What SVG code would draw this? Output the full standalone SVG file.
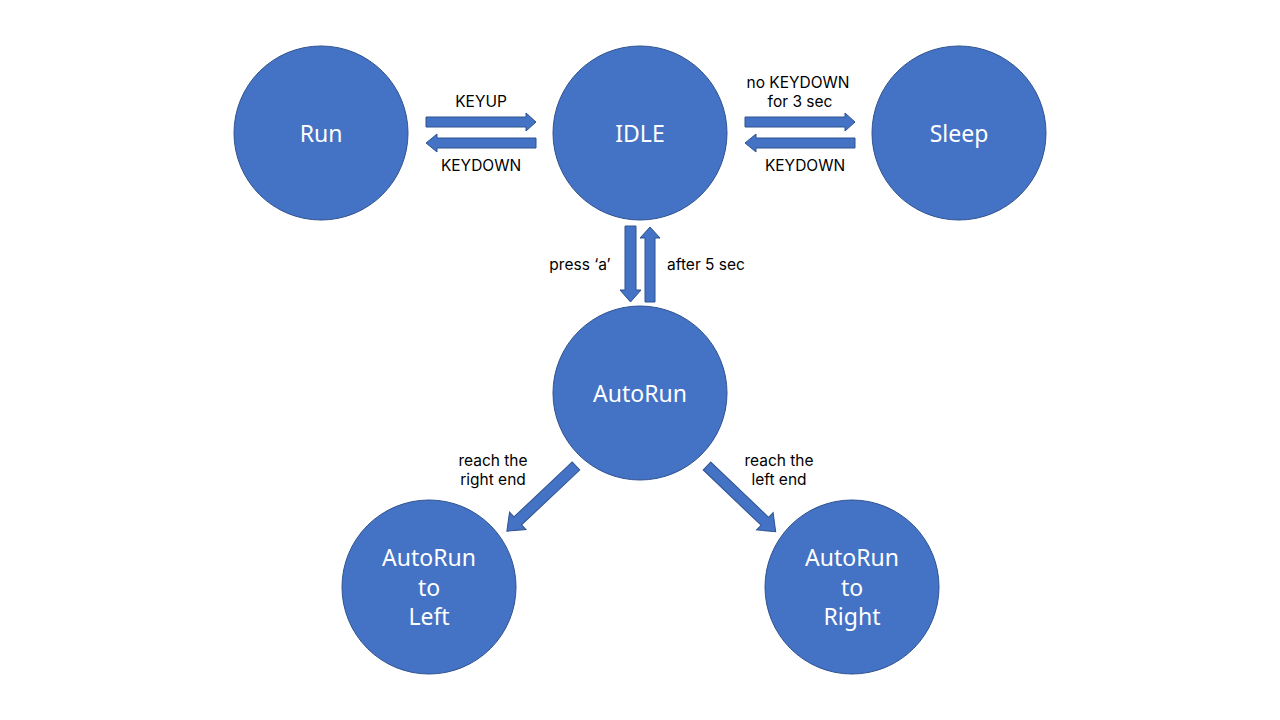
<svg xmlns="http://www.w3.org/2000/svg" width="1280" height="720" viewBox="0 0 1280 720">
<style>
.node{fill:#4472C4;stroke:#2F528F;stroke-width:1}
.nl{fill:#FFFFFF;font-family:"Noto Sans","Liberation Sans",sans-serif;font-size:23px;text-anchor:middle;dominant-baseline:central}
.el{fill:#000000;font-family:Inter,"Noto Sans","Liberation Sans",sans-serif;font-size:15.5px;text-anchor:middle;dominant-baseline:central}
.arr{fill:#4472C4;stroke:#2F528F;stroke-width:1}
</style>
<rect width="1280" height="720" fill="#FFFFFF"/>
<g id="connectors">
  <!-- Run -> IDLE (KEYUP) -->
  <polygon class="arr" points="426,117 526,117 526,113 536,122 526,131 526,127 426,127"/>
  <!-- IDLE -> Run (KEYDOWN) -->
  <polygon class="arr" points="536,138 437,138 437,134 426,143 437,152 437,148 536,148"/>
  <!-- IDLE -> Sleep -->
  <polygon class="arr" points="745,117 845,117 845,113 855,122 845,131 845,127 745,127"/>
  <!-- Sleep -> IDLE -->
  <polygon class="arr" points="855,138 756,138 756,134 745,143 756,152 756,148 855,148"/>
  <!-- IDLE -> AutoRun (press 'a') -->
  <polygon class="arr" points="625.5,226 636,226 636,290 641,290 630.5,302 620,290 625,290 625,226"/>
  <!-- AutoRun -> IDLE (after 5 sec) -->
  <polygon class="arr" points="645,302 655,302 655,238 660,238 650,227 640,238 645,238"/>
  <!-- AutoRun -> AutoRun to Left -->
  <polygon class="arr" transform="translate(576,466) rotate(136.7)" points="0,-5.5 80,-5.5 80,-12 95,0 80,12 80,5.5 0,5.5"/>
  <!-- AutoRun -> AutoRun to Right -->
  <polygon class="arr" transform="translate(707,466) rotate(43.7)" points="0,-5.5 80,-5.5 80,-12 95,0 80,12 80,5.5 0,5.5"/>
  <text class="el" x="481" y="101">KEYUP</text>
  <text class="el" x="481" y="165">KEYDOWN</text>
  <text class="el" x="798" y="82">no KEYDOWN<tspan x="800" dy="19">for 3 sec</tspan></text>
  <text class="el" x="805" y="165">KEYDOWN</text>
  <text class="el" x="580" y="264">press ‘a’</text>
  <text class="el" x="706" y="264">after 5 sec</text>
  <text class="el" x="493" y="460">reach the<tspan x="493" dy="19">right end</tspan></text>
  <text class="el" x="779" y="460">reach the<tspan x="779" dy="19">left end</tspan></text>
</g>
<g id="run">
  <circle class="node" cx="321" cy="133" r="87"/>
  <text class="nl" x="321" y="133">Run</text>
</g>
<g id="idle">
  <circle class="node" cx="640" cy="133" r="87"/>
  <text class="nl" x="640" y="133">IDLE</text>
</g>
<g id="sleep">
  <circle class="node" cx="959" cy="133" r="87"/>
  <text class="nl" x="959" y="133">Sleep</text>
</g>
<g id="autorun">
  <circle class="node" cx="640" cy="393" r="87"/>
  <text class="nl" x="640" y="393">AutoRun</text>
</g>
<g id="autorun-left">
  <circle class="node" cx="429" cy="587" r="87"/>
  <text class="nl" x="429" y="557">AutoRun<tspan x="429" dy="30">to</tspan><tspan x="429" dy="29">Left</tspan></text>
</g>
<g id="autorun-right">
  <circle class="node" cx="852" cy="587" r="87"/>
  <text class="nl" x="852" y="557">AutoRun<tspan x="852" dy="30">to</tspan><tspan x="852" dy="29">Right</tspan></text>
</g>
</svg>
